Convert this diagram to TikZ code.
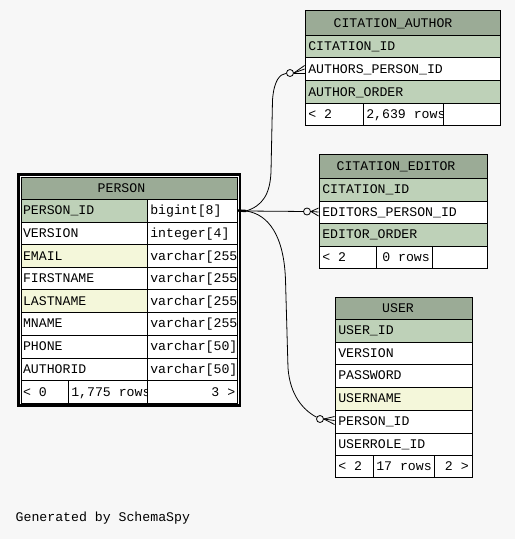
\documentclass[tikz,border=0pt]{standalone}
\usepackage{fontspec}
\setmonofont{Liberation Mono}
\usetikzlibrary{fit}
\definecolor{pagebg}{HTML}{F7F7F7}
\definecolor{headbg}{HTML}{9BAB96}
\definecolor{keybg}{HTML}{BED1B8}
\definecolor{idxbg}{HTML}{F4F7DA}
\tikzset{
  cellbox/.style={draw=black, line width=0.9pt, inner sep=0pt, rectangle},
  celltext/.style={anchor=base west, inner sep=0pt, font=\ttfamily\fontsize{13.2}{13.2}\selectfont},
  link/.style={draw=black, line width=0.8pt},
  onemark/.style={draw=black, line width=2.4pt},
  zeromark/.style={circle, draw=black, line width=0.8pt, fill=pagebg, inner sep=0pt, minimum size=7pt},
}
% \tcell[pad]{name}{x1}{y1}{x2}{y2}{fill}{text}
\newcommand\tcell[8][3.5]{%
  \node[cellbox, fill=#7, fit={(#3,#4)(#5,#6)}] (#2) {};
  \node[celltext] (#2t) at ([xshift=#1pt, yshift=-4.3pt]#2.west) {#8};
}
% \rcell[pad]{name}{x1}{y1}{x2}{y2}{text}  right aligned, white
\newcommand\rcell[7][3.5]{%
  \node[cellbox, fill=white, fit={(#3,#4)(#5,#6)}] (#2) {};
  \node[celltext, anchor=base east] (#2t) at ([xshift=-#1pt, yshift=-4.3pt]#2.east) {#7};
}
% \ttl{name}{x1}{y1}{x2}{y2}{text}{xoffset}
\newcommand\ttl[7]{%
  \node[cellbox, fill=headbg, fit={(#2,#3)(#4,#5)}] (#1) {};
  \node[celltext, anchor=base] (#1t) at ([xshift=#7pt, yshift=-4.3pt]#1.center) {#6};
}
\begin{document}
\begin{tikzpicture}[x=1pt, y=-1pt]
\fill[pagebg] (0,0) rectangle (515,539);
\useasboundingbox (0,0) rectangle (515,539);

% ---------------- CITATION_AUTHOR ----------------
\ttl{ca}{305}{10.5}{500}{35}{CITATION\_AUTHOR}{-9.5}
\tcell{caCid}{305}{35}{500}{57.5}{keybg}{CITATION\_ID}
\tcell{caApid}{305}{57.5}{500}{80.5}{white}{AUTHORS\_PERSON\_ID}
\tcell{caOrd}{305}{80.5}{500}{103}{keybg}{AUTHOR\_ORDER}
\tcell{caF1}{305}{103}{363}{125}{white}{< 2}
\tcell{caF2}{363}{103}{443}{125}{white}{2,639 rows}
\tcell{caF3}{443}{103}{500}{125}{white}{}

% ---------------- CITATION_EDITOR ----------------
\ttl{ce}{319}{154}{487}{178}{CITATION\_EDITOR}{-7}
\tcell{ceCid}{319}{178}{487}{201}{keybg}{CITATION\_ID}
\tcell{ceEpid}{319}{201}{487}{223}{white}{EDITORS\_PERSON\_ID}
\tcell{ceOrd}{319}{223}{487}{246}{keybg}{EDITOR\_ORDER}
\tcell{ceF1}{319}{246}{376}{268}{white}{< 2}
\tcell[6.5]{ceF2}{376}{246}{432}{268}{white}{0 rows}
\tcell{ceF3}{432}{246}{487}{268}{white}{}

% ---------------- USER ----------------
\ttl{us}{335}{297}{472}{319}{USER}{-5.5}
\tcell{usId}{335}{319}{472}{342}{keybg}{USER\_ID}
\tcell{usVer}{335}{342}{472}{364}{white}{VERSION}
\tcell{usPw}{335}{364}{472}{387}{white}{PASSWORD}
\tcell{usName}{335}{387}{472}{410}{idxbg}{USERNAME}
\tcell{usPid}{335}{410}{472}{433}{white}{PERSON\_ID}
\tcell{usRole}{335}{433}{472}{455}{white}{USERROLE\_ID}
\tcell{usF1}{335}{455}{373}{477}{white}{< 2}
\tcell{usF2}{373}{455}{434}{477}{white}{17 rows}
\rcell{usF3}{434}{455}{472}{477}{2 >}

% ---------------- PERSON ----------------
\fill[white] (17,173.5) rectangle (241,406.5);
\begin{scope}
\clip (0,0) rectangle (240,539);
\ttl{pe}{21.5}{177}{237.5}{199}{PERSON}{-8}
\tcell[1.8]{pePid}{21.5}{199}{147}{222}{keybg}{PERSON\_ID}
\tcell{pePidT}{147}{199}{237.5}{222}{white}{bigint[8]}
\tcell[1.8]{peVer}{21.5}{222}{147}{244.5}{white}{VERSION}
\tcell{peVerT}{147}{222}{237.5}{244.5}{white}{integer[4]}
\tcell[1.8]{peMail}{21.5}{244.5}{147}{267}{idxbg}{EMAIL}
\tcell{peMailT}{147}{244.5}{237.5}{267}{white}{varchar[255]}
\tcell[1.8]{peFirst}{21.5}{267}{147}{289.5}{white}{FIRSTNAME}
\tcell{peFirstT}{147}{267}{237.5}{289.5}{white}{varchar[255]}
\tcell[1.8]{peLast}{21.5}{289.5}{147}{312}{idxbg}{LASTNAME}
\tcell{peLastT}{147}{289.5}{237.5}{312}{white}{varchar[255]}
\tcell[1.8]{peM}{21.5}{312}{147}{335}{white}{MNAME}
\tcell{peMT}{147}{312}{237.5}{335}{white}{varchar[255]}
\tcell[1.8]{pePhone}{21.5}{335}{147}{358}{white}{PHONE}
\tcell{pePhoneT}{147}{335}{237.5}{358}{white}{varchar[50]}
\tcell[1.8]{peAuth}{21.5}{358}{147}{380.5}{white}{AUTHORID}
\tcell{peAuthT}{147}{358}{237.5}{380.5}{white}{varchar[50]}
\tcell[1.8]{peF1}{21.5}{380.5}{68}{403}{white}{< 0}
\tcell{peF2}{68}{380.5}{147}{403}{white}{1,775 rows}
\rcell[2.5]{peF3}{147}{380.5}{237.5}{403}{3 >}
\end{scope}
\node[draw=black, line width=2.6pt, inner sep=0pt, fit={(18.3,174.6)(240,405.3)}] (person) {};

% ---------------- connectors ----------------
\coordinate (hub) at (246,211);
\draw[onemark] (pePidT.east) -- (hub);

\node[zeromark] (z1) at (290,73) {};
\node[zeromark] (z2) at (307,211.5) {};
\node[zeromark] (z3) at (320,419) {};

\draw[link] (hub) .. controls (262,206) and (270,195) .. (271,172)
  -- (272.5,100) .. controls (274,80) and (280,74) .. (z1);
\draw[link] (hub) -- (z2);
\draw[link] (hub) .. controls (268,214) and (284,235) .. (285.5,280)
  -- (288,368) .. controls (290,395) and (303,410) .. (z3);

% crow's feet
\draw[link] (z1.east) -- ([yshift=3.5pt]caApid.west);
\draw[link] (z1.east) -- (caApid.west);
\draw[link] (z1.east) -- ([yshift=-4pt]caApid.west);

\draw[link] (z2.east) -- ([yshift=4pt]ceEpid.west);
\draw[link] (z2.east) -- (ceEpid.west);
\draw[link] (z2.east) -- ([yshift=-4pt]ceEpid.west);

\draw[link] (z3.east) -- ([yshift=5pt]usPid.west);
\draw[link] (z3.east) -- ([yshift=1pt]usPid.west);
\draw[link] (z3.east) -- ([yshift=-3pt]usPid.west);

% ---------------- footer text ----------------
\node[celltext] (gen) at (15.5,521.5) {Generated by SchemaSpy};
\end{tikzpicture}
\end{document}
